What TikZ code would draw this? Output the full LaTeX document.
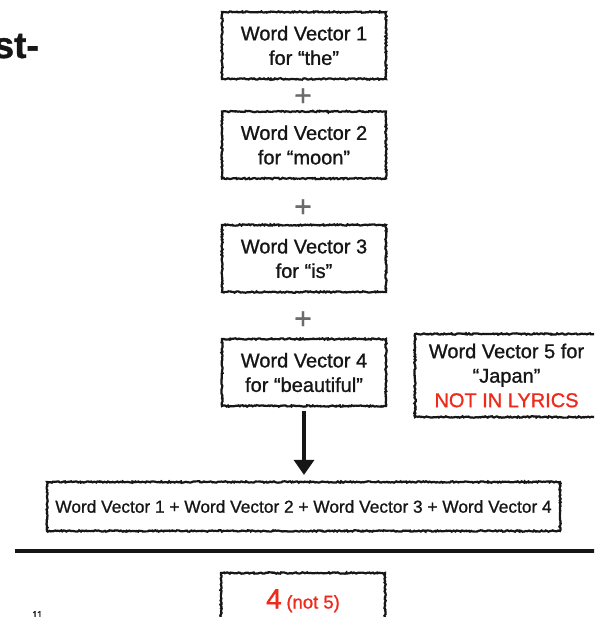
\documentclass[tikz,border=0pt]{standalone}
\usepackage{fontspec}
\setmainfont{Liberation Sans}[FakeBold=1.0]
\usetikzlibrary{decorations.pathmorphing,arrows.meta}
\definecolor{ink}{HTML}{161616}
\definecolor{alert}{HTML}{EE2A1B}
\definecolor{plusgray}{HTML}{6B6B6B}
\tikzset{
  sketch/.style={draw=ink, line width=2.2pt, decorate,
    decoration={random steps, segment length=1.4pt, amplitude=0.7pt}},
  vecbox/.style={sketch, minimum width=164pt, minimum height=67pt,
    align=center, inner sep=0pt, text=ink,
    font=\fontsize{20}{24.5}\selectfont},
  plussign/.style={text=plusgray, inner sep=0pt,
    font=\fontsize{30}{30}\selectfont},
}
\begin{document}
\pgfmathsetseed{7}
\begin{tikzpicture}[x=1pt, y=-1pt]
  \clip (0,0) rectangle (594,617);
  \fill[white] (0,0) rectangle (594,617);

  % fragment of a heading running in from the left
  \node[anchor=base east, inner sep=0pt, text=ink,
        font=\fontsize{37}{37}\selectfont\bfseries] (head) at (39,58) {st-};

  % the four word vectors of the lyric, summed
  \node[vecbox] (v1) at (304,45.5) {Word Vector 1\\for “the”};
  \node[plussign] (p1) at (303,97) {+};
  \node[vecbox] (v2) at (304,145) {Word Vector 2\\for “moon”};
  \node[plussign] (p2) at (303,208) {+};
  \node[vecbox] (v3) at (304,258.5) {Word Vector 3\\for “is”};
  \node[plussign] (p3) at (303,320) {+};
  \node[vecbox] (v4) at (304,372.5) {Word Vector 4\\for “beautiful”};

  % the vector left out
  \node[vecbox, minimum width=183pt, minimum height=83pt] (v5) at (506.5,375.5)
    {Word Vector 5 for\\“Japan”\\\textcolor{alert}{NOT IN LYRICS}};

  % the sum
  \node[vecbox, minimum width=513pt, minimum height=49pt,
        font=\fontsize{17.3}{20}\selectfont] (sum) at (303.5,506.5)
    {Word Vector 1 + Word Vector 2 + Word Vector 3 + Word Vector 4};

  \draw[ink, line width=3.2pt, shorten >=6pt,
        -{Triangle[width=20pt,length=15pt]}] (v4.south) ++(0,4) coordinate (a0)
        (a0) -- (sum.north -| a0);

  % divider
  \coordinate (dl) at (15,551);
  \coordinate (dr) at (600,551);
  \draw[ink, line width=4.5pt] (dl) -- (dr);

  % count of vectors: box running past the lower edge, label inside it
  \node[vecbox, minimum height=67pt] (count) at (303,606.5) {};
  \node[inner sep=0pt, text=alert, anchor=base] (countlabel) at (303,608.5)
    {\fontsize{28}{28}\selectfont 4\,\fontsize{18.5}{20}\selectfont (not 5)};

  % slide number
  \node[anchor=north west, inner sep=0pt, text=ink,
        font=\fontsize{10}{10}\selectfont] (pg) at (32,611) {11};
\end{tikzpicture}
\end{document}
